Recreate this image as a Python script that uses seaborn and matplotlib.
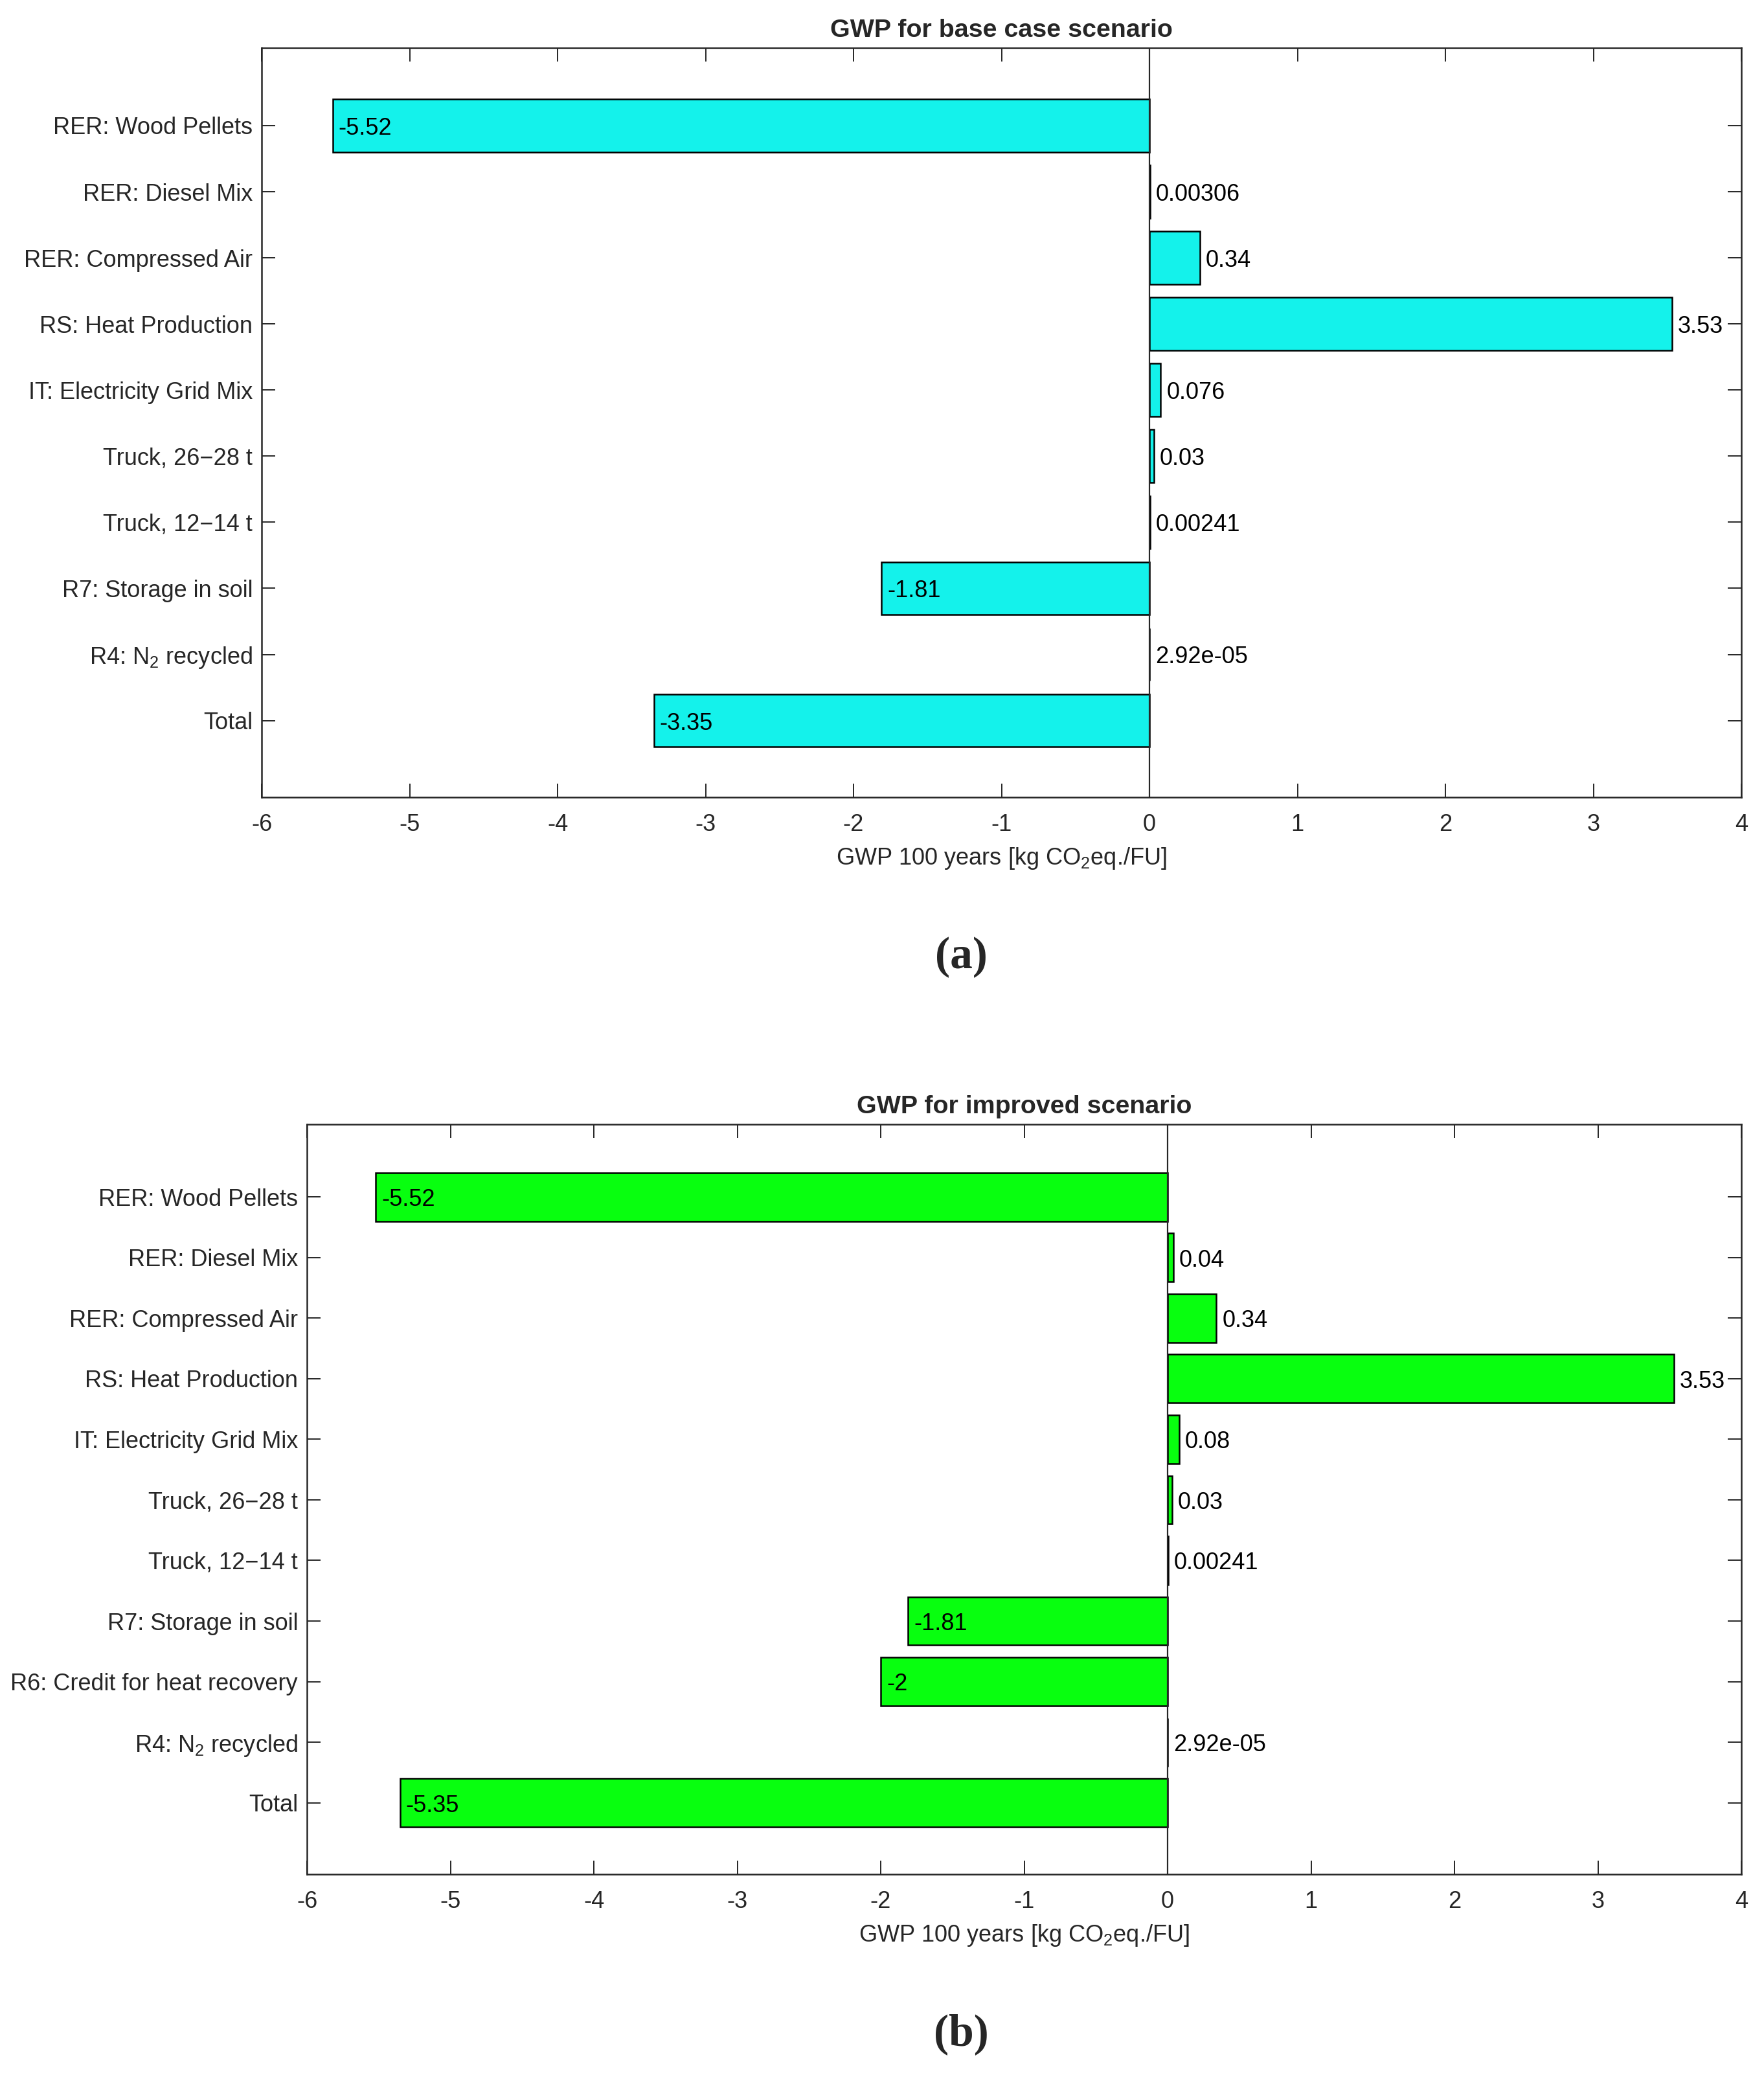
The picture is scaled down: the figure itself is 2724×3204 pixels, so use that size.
import numpy as np
import pandas as pd
import matplotlib
matplotlib.use("Agg")
import matplotlib.pyplot as plt
import seaborn as sns

# ---------------- data ----------------
cats_a = ["RER: Wood Pellets", "RER: Diesel Mix", "RER: Compressed Air",
          "RS: Heat Production", "IT: Electricity Grid Mix", "Truck, 26\u221228 t",
          "Truck, 12\u221214 t", "R7: Storage in soil", "R4: N$_2$ recycled", "Total"]
vals_a = [-5.52, 0.00306, 0.34, 3.53, 0.076, 0.03, 0.00241, -1.81, 2.92e-05, -3.35]

cats_b = ["RER: Wood Pellets", "RER: Diesel Mix", "RER: Compressed Air",
          "RS: Heat Production", "IT: Electricity Grid Mix", "Truck, 26\u221228 t",
          "Truck, 12\u221214 t", "R7: Storage in soil", "R6: Credit for heat recovery",
          "R4: N$_2$ recycled", "Total"]
vals_b = [-5.52, 0.04, 0.34, 3.53, 0.08, 0.03, 0.00241, -1.81, -2.0, 2.92e-05, -5.35]

titles = ["GWP for base case scenario", "GWP for improved scenario"]
xlabel = "GWP 100 years [kg CO$_2$eq./FU]"
xticks = [-6, -5, -4, -3, -2, -1, 0, 1, 2, 3, 4]
panel_labels = ["(a)", "(b)"]

# ---------------- style ----------------
sns.set_style("white")
plt.rcParams["font.family"] = ["Liberation Sans", "DejaVu Sans"]
plt.rcParams["mathtext.fontset"] = "custom"
plt.rcParams["mathtext.rm"] = "Liberation Sans"
plt.rcParams["mathtext.it"] = "Liberation Sans:italic"
plt.rcParams["mathtext.bf"] = "Liberation Sans:bold"
plt.rcParams["axes.unicode_minus"] = False

W, H = 2724, 3204
DPI = 200
fig = plt.figure(figsize=(W / DPI, H / DPI), dpi=DPI)

axis_col = (0.15, 0.15, 0.15)
FS = 13

def px_rect(l, t, r, b):
    return [l / W, 1 - b / H, (r - l) / W, (b - t) / H]

specs = [
    dict(cats=cats_a, vals=vals_a, color=(0.08, 0.95, 0.92),
         rect=px_rect(404, 73.5, 2689, 1231), ylim=(len(cats_a) - 1 + 1.16, -1.18)),
    dict(cats=cats_b, vals=vals_b, color=(0.03, 1.0, 0.06),
         rect=px_rect(474, 1736, 2689, 2894), ylim=(len(cats_b) - 1 + 1.18, -1.2)),
]

for k, sp in enumerate(specs):
    ax = fig.add_axes(sp["rect"])
    df = pd.DataFrame({"cat": sp["cats"], "val": sp["vals"]})
    sns.barplot(data=df, x="val", y="cat", orient="h", order=sp["cats"],
                color=sp["color"], saturation=1, width=0.8,
                edgecolor="black", linewidth=0.9, ax=ax, zorder=2)
    ax.axvline(0, color=axis_col, lw=0.8, zorder=3)
    ax.set_xlim(-6, 4)
    ax.set_xticks(xticks)
    ax.set_xticklabels([str(t) for t in xticks])
    ax.set_ylim(*sp["ylim"])
    ax.set_ylabel("")
    ax.set_xlabel(xlabel, fontsize=FS, color=axis_col, labelpad=5.5)
    ax.set_title(titles[k], fontsize=14.2, fontweight="bold", pad=6)
    for s in ax.spines.values():
        s.set_visible(True)
        s.set_color(axis_col)
        s.set_linewidth(0.9)
    ax.tick_params(axis="both", direction="in", length=7.5, width=0.7,
                   top=True, right=True, bottom=True, left=True,
                   labelsize=FS, color=axis_col, labelcolor=axis_col)
    ax.tick_params(axis="x", pad=9)
    ax.tick_params(axis="y", pad=5)
    ax.grid(False)
    for i, v in enumerate(sp["vals"]):
        ax.annotate(f"{v:.3g}", xy=(v, i), xytext=(3.2, -1.6),
                    textcoords="offset points", ha="left", va="center",
                    fontsize=FS, color="black", zorder=4)

fig.text(1484 / W, 1 - 1478 / H, panel_labels[0], ha="center", va="center",
         fontsize=25, fontweight="bold", family=["Liberation Serif", "DejaVu Serif"])
fig.text(1484 / W, 1 - 3141 / H, panel_labels[1], ha="center", va="center",
         fontsize=25, fontweight="bold", family=["Liberation Serif", "DejaVu Serif"])

fig.savefig("out.png", dpi=DPI, facecolor="white")
